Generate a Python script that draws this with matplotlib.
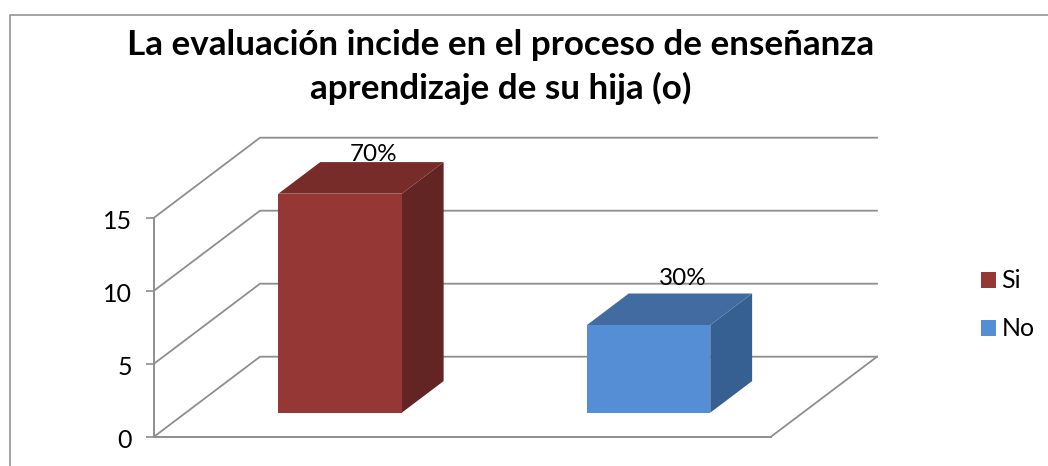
import matplotlib
matplotlib.use("Agg")
import matplotlib.pyplot as plt
from matplotlib.lines import Line2D
from matplotlib.patches import Patch, Polygon
from matplotlib.transforms import ScaledTranslation

plt.rcParams['font.family'] = ['Lato', 'DejaVu Sans']

title = "La evaluación incide en el proceso de enseñanza\naprendizaje de su hija (o)"
categories = ["Si", "No"]
values = [15, 6]
labels = ["70%", "30%"]
yticks = [0, 5, 10, 15]

W, H = 1048, 466
fronts = ["#953735", "#558ED5"]
sides = ["#632523", "#376092"]
tops = ["#772C2A", "#426CA1"]
GRID = "#8E8E8E"

fig = plt.figure(figsize=(W / 100, H / 100), dpi=100, facecolor="white")
L, R, B, T = 154, 771, 436.7, 217.7
ax = fig.add_axes([L / W, 1 - B / H, (R - L) / W, (B - T) / H])
ax.set_xlim(0, len(categories))
ax.set_ylim(0, 15)
ax.patch.set_visible(False)

unit_x = (R - L) / len(categories)
unit_y = (B - T) / 15
DX, DY = 106 / unit_x, 80 / unit_y


def proj(x, y, d):
    """Oblique projection: d=0 front of the floor, d=1 back wall."""
    return x + DX * d, y + DY * d


# walls and floor
for v in yticks:
    xs, ys = zip(proj(0, v, 0), proj(0, v, 1), proj(len(categories), v, 1))
    ax.plot(xs, ys, color=GRID, lw=1.3, clip_on=False, zorder=1, solid_joinstyle="miter")
xs, ys = zip(proj(len(categories), 0, 0), proj(len(categories), 0, 1))
ax.plot(xs, ys, color=GRID, lw=1.3, clip_on=False, zorder=1)

# bars
BAR_W, D0, D1 = 0.40, 0.30, 0.695
label_offsets = [(12, 23), (13, 31)]
for i, v in enumerate(values):
    x0, x1 = i + 0.5 - BAR_W / 2, i + 0.5 + BAR_W / 2
    front = [proj(x0, 0, D0), proj(x1, 0, D0), proj(x1, v, D0), proj(x0, v, D0)]
    side = [proj(x1, 0, D0), proj(x1, 0, D1), proj(x1, v, D1), proj(x1, v, D0)]
    top = [proj(x0, v, D0), proj(x1, v, D0), proj(x1, v, D1), proj(x0, v, D1)]
    for poly, c in ((side, sides[i]), (top, tops[i]), (front, fronts[i])):
        ax.add_patch(Polygon(poly, closed=True, fc=c, ec="none", clip_on=False, zorder=3))
    cx, cy = proj(i + 0.5, v, 0.5)
    ox, oy = label_offsets[i]
    ax.annotate(labels[i], (cx, cy), xytext=(ox * 0.72, oy * 0.72), textcoords="offset points",
                ha="center", va="center", fontsize=17.5, color="black", zorder=5,
                annotation_clip=False)

# axes
for s in ("top", "right"):
    ax.spines[s].set_visible(False)
for s in ("left", "bottom"):
    ax.spines[s].set_color(GRID)
    ax.spines[s].set_linewidth(1.4)
ax.set_xticks([])
ax.set_yticks(yticks)
ax.tick_params(axis="y", length=5.5, width=1.2, color=GRID, labelsize=18, pad=10.5)
shift = ScaledTranslation(0, -1.5 / 100, fig.dpi_scale_trans)
for lab in ax.get_yticklabels():
    lab.set_transform(lab.get_transform() + shift)

# title
fig.text(501 / W, 1 - 67 / H, title, ha="center", va="center", fontsize=25.2,
         fontweight="bold", color="black", linespacing=1.38)

# legend
handles = [Patch(fc=fronts[i], ec="none", label=categories[i]) for i in range(len(categories))]
fig.legend(handles=handles, loc="center left", bbox_to_anchor=(975.5 / W, 1 - 305 / H),
           bbox_transform=fig.transFigure, frameon=False, fontsize=18,
           handlelength=0.6, handleheight=0.6, handletextpad=0.22, labelspacing=1.0,
           borderpad=0.22, borderaxespad=0)

# outer chart border
fig.add_artist(Line2D([9.5 / W, 9.5 / W, 1], [0, 1 - 14.5 / H, 1 - 14.5 / H],
                      transform=fig.transFigure, color="#8A8A8A", lw=1.1))

fig.savefig("out.png", dpi=100)
